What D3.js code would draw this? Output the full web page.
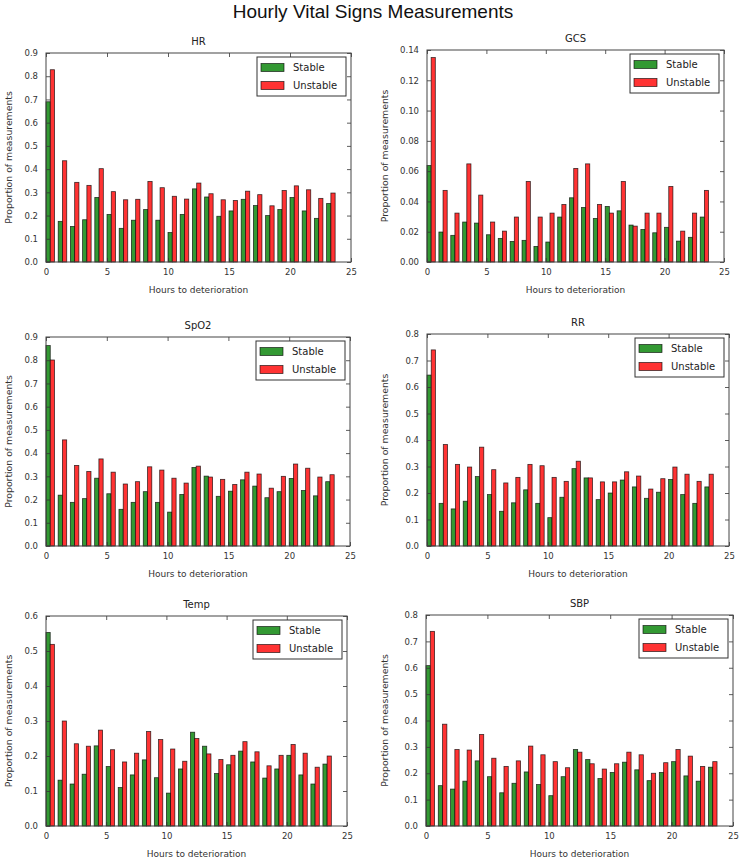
<!DOCTYPE html>
<html>
<head>
<meta charset="utf-8">
<script src="https://cdn.jsdelivr.net/npm/d3@7"></script>
<style>
  html, body { margin: 0; padding: 0; background: #fff; }
  svg { display: block; }
  text { font-family: "DejaVu Sans", sans-serif; }
</style>
</head>
<body>
<svg id="chart" width="742" height="861"></svg>
<script>
// ---------------- DATA ----------------
const suptitle = "Hourly Vital Signs Measurements";
const hours = [0,1,2,3,4,5,6,7,8,9,10,11,12,13,14,15,16,17,18,19,20,21,22,23];
const seriesNames = ["Stable", "Unstable"];
const xTicks = [0, 5, 10, 15, 20, 25];

const hrStable   = [0.690,0.175,0.153,0.182,0.278,0.205,0.145,0.180,0.226,0.180,0.127,0.205,0.315,0.280,0.197,0.220,0.270,0.243,0.200,0.226,0.278,0.220,0.188,0.252];
const hrUnstable = [0.828,0.436,0.343,0.330,0.402,0.303,0.268,0.270,0.347,0.320,0.283,0.271,0.340,0.294,0.268,0.265,0.305,0.290,0.242,0.308,0.328,0.311,0.274,0.297];
const hrTicks = [0,0.1,0.2,0.3,0.4,0.5,0.6,0.7,0.8,0.9];

const gcsStable   = [0.0637,0.0198,0.0176,0.0264,0.0257,0.0180,0.0156,0.0136,0.0143,0.0103,0.0132,0.0297,0.0424,0.0360,0.0288,0.0367,0.0338,0.0244,0.0215,0.0193,0.0229,0.0138,0.0163,0.0297];
const gcsUnstable = [0.1350,0.0473,0.0323,0.0648,0.0442,0.0264,0.0204,0.0297,0.0532,0.0297,0.0323,0.0380,0.0618,0.0648,0.0380,0.0323,0.0532,0.0237,0.0323,0.0323,0.0499,0.0204,0.0323,0.0473];
const gcsTicks = [0,0.02,0.04,0.06,0.08,0.10,0.12,0.14];

const spo2Stable   = [0.863,0.219,0.188,0.204,0.292,0.225,0.158,0.188,0.234,0.188,0.146,0.222,0.338,0.301,0.214,0.236,0.285,0.258,0.208,0.234,0.291,0.239,0.216,0.277];
const spo2Unstable = [0.801,0.457,0.347,0.321,0.375,0.318,0.267,0.277,0.341,0.327,0.292,0.271,0.344,0.297,0.287,0.265,0.318,0.310,0.249,0.300,0.353,0.335,0.297,0.307];
const spo2Ticks = [0,0.1,0.2,0.3,0.4,0.5,0.6,0.7,0.8,0.9];

const rrStable   = [0.645,0.161,0.140,0.169,0.262,0.194,0.131,0.163,0.212,0.161,0.107,0.184,0.292,0.257,0.175,0.200,0.249,0.223,0.180,0.203,0.251,0.194,0.161,0.223];
const rrUnstable = [0.740,0.383,0.308,0.298,0.373,0.288,0.238,0.259,0.308,0.303,0.259,0.244,0.320,0.257,0.242,0.242,0.280,0.264,0.215,0.254,0.298,0.271,0.244,0.271];
const rrTicks = [0,0.1,0.2,0.3,0.4,0.5,0.6,0.7,0.8];

const tempStable   = [0.553,0.131,0.120,0.148,0.229,0.170,0.110,0.146,0.189,0.138,0.094,0.163,0.268,0.228,0.150,0.175,0.214,0.183,0.137,0.163,0.202,0.146,0.120,0.177];
const tempUnstable = [0.519,0.300,0.235,0.228,0.274,0.218,0.183,0.208,0.270,0.247,0.220,0.185,0.250,0.206,0.190,0.202,0.241,0.212,0.172,0.202,0.233,0.208,0.168,0.200];
const tempTicks = [0,0.1,0.2,0.3,0.4,0.5,0.6];

const sbpStable   = [0.608,0.153,0.140,0.170,0.247,0.187,0.126,0.162,0.205,0.157,0.115,0.187,0.290,0.252,0.180,0.203,0.242,0.213,0.172,0.203,0.244,0.190,0.170,0.223];
const sbpUnstable = [0.738,0.386,0.290,0.288,0.347,0.257,0.226,0.247,0.303,0.270,0.244,0.221,0.280,0.236,0.216,0.236,0.280,0.270,0.200,0.240,0.290,0.265,0.226,0.244];
const sbpTicks = [0,0.1,0.2,0.3,0.4,0.5,0.6,0.7,0.8];

const panels = [
  { title: "HR",   stable: hrStable,   unstable: hrUnstable,   yTicks: hrTicks,   fmt: ".1f" },
  { title: "GCS",  stable: gcsStable,  unstable: gcsUnstable,  yTicks: gcsTicks,  fmt: ".2f" },
  { title: "SpO2", stable: spo2Stable, unstable: spo2Unstable, yTicks: spo2Ticks, fmt: ".1f" },
  { title: "RR",   stable: rrStable,   unstable: rrUnstable,   yTicks: rrTicks,   fmt: ".1f" },
  { title: "Temp", stable: tempStable, unstable: tempUnstable, yTicks: tempTicks, fmt: ".1f" },
  { title: "SBP",  stable: sbpStable,  unstable: sbpUnstable,  yTicks: sbpTicks,  fmt: ".1f" }
];

// ---------------- LAYOUT ----------------
const boxes = [
  { l: 46,  r: 351, t: 53,  b: 262 },
  { l: 427, r: 724, t: 50,  b: 262 },
  { l: 46,  r: 350, t: 337, b: 546 },
  { l: 427, r: 729, t: 334, b: 546 },
  { l: 46,  r: 347, t: 616, b: 826 },
  { l: 426, r: 733, t: 615, b: 826 }
];
const colors = { Stable: "rgb(51,153,51)", Unstable: "rgb(255,51,51)" };
const barW = 0.35;

const svg = d3.select("#chart");

svg.append("text")
  .attr("x", 373).attr("y", 18)
  .attr("text-anchor", "middle")
  .style("font-family", "'Liberation Sans', Arial, sans-serif")
  .style("font-size", "19px")
  .attr("fill", "#111")
  .text(suptitle);

panels.forEach((p, i) => {
  const bx = boxes[i];
  const x = d3.scaleLinear().domain([0, 25]).range([bx.l, bx.r]);
  const y = d3.scaleLinear().domain([0, p.yTicks[p.yTicks.length - 1]]).range([bx.b, bx.t]);
  const g = svg.append("g");

  // bars
  const groups = [
    { name: "Stable", vals: p.stable, off: 0 },
    { name: "Unstable", vals: p.unstable, off: barW }
  ];
  groups.forEach(s => {
    g.append("g").selectAll("rect").data(hours).join("rect")
      .attr("x", h => x(h + s.off))
      .attr("y", (h, k) => y(s.vals[k]))
      .attr("width", h => x(h + s.off + barW) - x(h + s.off))
      .attr("height", (h, k) => y(0) - y(s.vals[k]))
      .attr("fill", colors[s.name])
      .attr("stroke", "rgba(0,0,0,0.75)")
      .attr("stroke-width", 0.8);
  });

  // axes (ticks inward on all sides)
  const tickLen = 4;
  const fmt = d3.format(p.fmt);
  const axB = d3.axisBottom(x).tickValues(xTicks).tickFormat(d3.format("d")).tickSizeInner(-tickLen).tickSizeOuter(0).tickPadding(7);
  const axT = d3.axisTop(x).tickValues(xTicks).tickFormat("").tickSizeInner(-tickLen).tickSizeOuter(0);
  const axL = d3.axisLeft(y).tickValues(p.yTicks).tickFormat(fmt).tickSizeInner(-tickLen).tickSizeOuter(0).tickPadding(8);
  const axR = d3.axisRight(y).tickValues(p.yTicks).tickFormat("").tickSizeInner(-tickLen).tickSizeOuter(0);

  const styleAx = sel => {
    sel.select(".domain").remove();
    sel.selectAll(".tick line").attr("stroke", "#333").attr("stroke-width", 0.8);
    sel.selectAll(".tick text").style("font-size", "8.5px").attr("fill", "#333");
  };
  g.append("g").attr("transform", `translate(0,${bx.b})`).call(axB).call(styleAx);
  g.append("g").attr("transform", `translate(0,${bx.t})`).call(axT).call(styleAx);
  g.append("g").attr("transform", `translate(${bx.l},0)`).call(axL).call(styleAx);
  g.append("g").attr("transform", `translate(${bx.r},0)`).call(axR).call(styleAx);

  // frame
  g.append("rect")
    .attr("x", bx.l).attr("y", bx.t)
    .attr("width", bx.r - bx.l).attr("height", bx.b - bx.t)
    .attr("fill", "none").attr("stroke", "#444").attr("stroke-width", 1);

  // title
  g.append("text")
    .attr("x", (bx.l + bx.r) / 2).attr("y", bx.t - 8)
    .attr("text-anchor", "middle")
    .style("font-size", "10px").attr("fill", "#222")
    .text(p.title);

  // axis labels
  g.append("text")
    .attr("x", (bx.l + bx.r) / 2).attr("y", bx.b + 31)
    .attr("text-anchor", "middle")
    .style("font-size", "9px").attr("fill", "#333")
    .text("Hours to deterioration");
  const ylx = bx.l < 200 ? 12 : 388;
  g.append("text")
    .attr("transform", `translate(${ylx},${(bx.t + bx.b) / 2}) rotate(-90)`)
    .attr("text-anchor", "middle")
    .style("font-size", "9.3px").attr("fill", "#333")
    .text("Proportion of measurements");

  // legend
  const lw = 89, lh = 39;
  const lx = bx.r - 5 - lw, ly = bx.t + 4;
  const lg = g.append("g").attr("transform", `translate(${lx},${ly})`);
  lg.append("rect").attr("width", lw).attr("height", lh)
    .attr("fill", "#fff").attr("stroke", "#333").attr("stroke-width", 1);
  seriesNames.forEach((name, k) => {
    const cy = 10.5 + k * 18;
    lg.append("rect").attr("x", 4).attr("y", cy - 4).attr("width", 23).attr("height", 8)
      .attr("fill", colors[name]).attr("stroke", "rgba(0,0,0,0.75)").attr("stroke-width", 0.8);
    lg.append("text").attr("x", 36).attr("y", cy + 3.7)
      .style("font-size", "10px").attr("fill", "#222")
      .text(name);
  });
});
</script>
</body>
</html>
